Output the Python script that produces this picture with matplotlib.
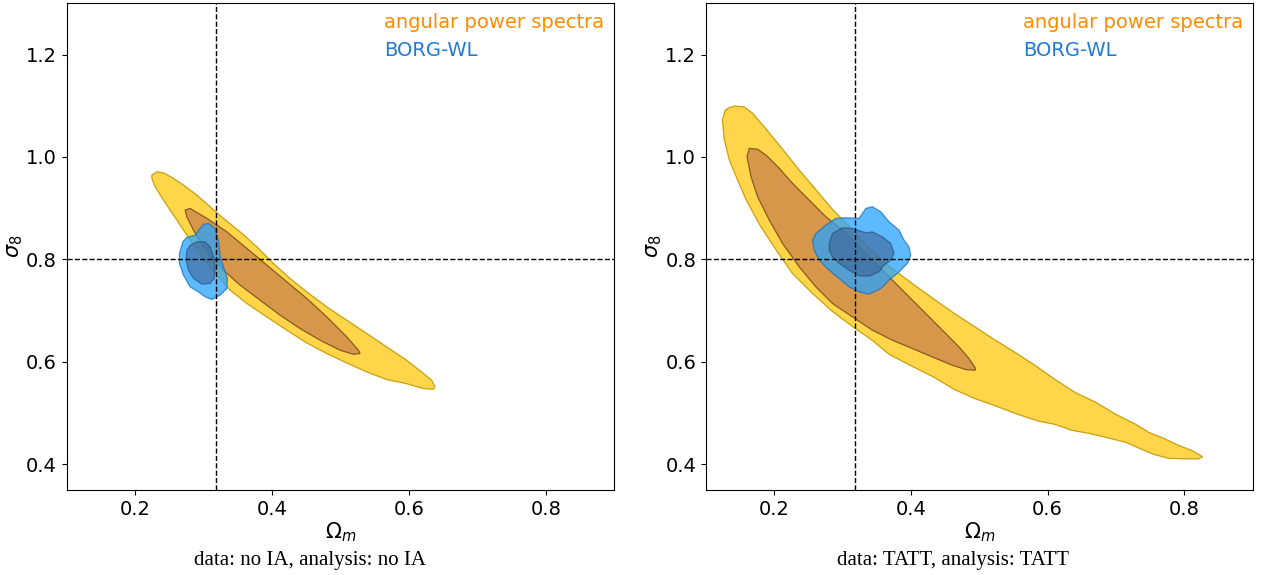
import numpy as np
import matplotlib
matplotlib.use("Agg")
import matplotlib.pyplot as plt
from matplotlib.patches import Polygon
from matplotlib.lines import Line2D

# fiducial values
om_fid = 0.3175
s8_fid = 0.8

# --- left panel: data no IA, analysis no IA (contour outlines, Omega_m / sigma_8)
cl_outer_om = [0.2244, 0.2317, 0.2413, 0.2559, 0.2705, 0.2901, 0.3095, 0.3289, 0.3533, 0.3777,
               0.4019, 0.4263, 0.4507, 0.4799, 0.5091, 0.5383, 0.5674, 0.5966, 0.6209, 0.6331,
               0.6380, 0.6355, 0.6209, 0.5966, 0.5674, 0.5383, 0.5091, 0.4799, 0.4507, 0.4215,
               0.3923, 0.3631, 0.3387, 0.3193, 0.2997, 0.2803, 0.2609, 0.2413, 0.2292, 0.2244]
cl_outer_s8 = [0.9646, 0.9711, 0.9691, 0.9582, 0.9451, 0.9256, 0.9027, 0.8801, 0.8539, 0.8246,
               0.7922, 0.7629, 0.7367, 0.7074, 0.6814, 0.6555, 0.6293, 0.6033, 0.5777, 0.5643,
               0.5512, 0.5467, 0.5479, 0.5576, 0.5656, 0.5805, 0.5980, 0.6164, 0.6371, 0.6619,
               0.6879, 0.7141, 0.7400, 0.7693, 0.8020, 0.8377, 0.8768, 0.9158, 0.9418, 0.9582]
cl_inner_om = [0.2730, 0.2803, 0.3047, 0.3339, 0.3631, 0.3923, 0.4215, 0.4507, 0.4799, 0.5091,
               0.5260, 0.5285, 0.5187, 0.4993, 0.4701, 0.4409, 0.4117, 0.3825, 0.3533, 0.3289,
               0.3047, 0.2851, 0.2755]
cl_inner_s8 = [0.8963, 0.8996, 0.8801, 0.8539, 0.8215, 0.7889, 0.7563, 0.7238, 0.6879, 0.6488,
               0.6229, 0.6164, 0.6150, 0.6229, 0.6424, 0.6652, 0.6912, 0.7205, 0.7498, 0.7791,
               0.8148, 0.8572, 0.8832]
borg_outer_om = [0.3070, 0.3168, 0.3216, 0.3241, 0.3289, 0.3347, 0.3339, 0.3241, 0.3120, 0.3022,
                 0.2924, 0.2803, 0.2705, 0.2647, 0.2647, 0.2696, 0.2755, 0.2876, 0.2949, 0.2997]
borg_outer_s8 = [0.8703, 0.8605, 0.8377, 0.8051, 0.7855, 0.7629, 0.7434, 0.7303, 0.7219, 0.7270,
                 0.7367, 0.7465, 0.7693, 0.7922, 0.8117, 0.8344, 0.8430, 0.8475, 0.8605, 0.8684]
borg_inner_om = [0.2755, 0.2803, 0.2901, 0.3022, 0.3095, 0.3143, 0.3168, 0.3153, 0.3095, 0.2974,
                 0.2851, 0.2778, 0.2745]
borg_inner_s8 = [0.8182, 0.8279, 0.8344, 0.8344, 0.8246, 0.8051, 0.7855, 0.7629, 0.7531, 0.7518,
                 0.7629, 0.7791, 0.7986]

# --- right panel: data TATT, analysis TATT
cr_outer_om = [0.1430, 0.1560, 0.1680, 0.1880, 0.2120, 0.2365, 0.2614, 0.2847, 0.3052, 0.3388,
               0.3680, 0.4031, 0.4338, 0.4630, 0.4922, 0.5214, 0.5521, 0.5813, 0.6105, 0.6397,
               0.6704, 0.6996, 0.7289, 0.7479, 0.7698, 0.7917, 0.8136, 0.8268,
               0.8209, 0.7990, 0.7771, 0.7552, 0.7376, 0.7143, 0.6851, 0.6602, 0.6354, 0.6105,
               0.5872, 0.5521, 0.5214, 0.4922, 0.4630, 0.4338, 0.4016, 0.3680, 0.3432, 0.3140,
               0.2847, 0.2555, 0.2263, 0.2029, 0.1781, 0.1591, 0.1445, 0.1343, 0.1270, 0.1240,
               0.1284, 0.1343]
cr_outer_s8 = [1.0994, 1.0975, 1.0857, 1.0545, 1.0154, 0.9744, 0.9354, 0.8982, 0.8709, 0.8221,
               0.7869, 0.7518, 0.7225, 0.6951, 0.6697, 0.6443, 0.6189, 0.5936, 0.5662, 0.5408,
               0.5213, 0.4979, 0.4783, 0.4627, 0.4510, 0.4373, 0.4256, 0.4148,
               0.4109, 0.4109, 0.4119, 0.4197, 0.4295, 0.4432, 0.4529, 0.4607, 0.4666, 0.4783,
               0.4842, 0.4998, 0.5154, 0.5291, 0.5467, 0.5701, 0.5916, 0.6150, 0.6424, 0.6697,
               0.6990, 0.7342, 0.7732, 0.8182, 0.8689, 0.9158, 0.9607, 0.9939, 1.0330, 1.0721,
               1.0916, 1.0965]
cr_inner_om = [0.1635, 0.1756, 0.1879, 0.2073, 0.2267, 0.2511, 0.2755, 0.2998, 0.3242, 0.3486,
               0.3729, 0.3973, 0.4216, 0.4459, 0.4703, 0.4849, 0.4947, 0.4937, 0.4801, 0.4605,
               0.4313, 0.4021, 0.3729, 0.3436, 0.3144, 0.2852, 0.2609, 0.2365, 0.2121, 0.1927,
               0.1756, 0.1660, 0.1601]
cr_inner_s8 = [1.0168, 1.0149, 1.0037, 0.9778, 0.9485, 0.9158, 0.8832, 0.8572, 0.8246, 0.7922,
               0.7596, 0.7270, 0.6946, 0.6620, 0.6293, 0.6067, 0.5871, 0.5838, 0.5852, 0.5936,
               0.6098, 0.6262, 0.6424, 0.6620, 0.6879, 0.7141, 0.7465, 0.7856, 0.8313, 0.8768,
               0.9223, 0.9613, 1.0004]
br_outer_om = [0.2560, 0.2609, 0.2755, 0.2901, 0.3048, 0.3242, 0.3290, 0.3340, 0.3436, 0.3559,
               0.3680, 0.3826, 0.3899, 0.3972, 0.3997, 0.3948, 0.3826, 0.3680, 0.3559, 0.3388,
               0.3242, 0.3096, 0.2950, 0.2803, 0.2657, 0.2584]
br_outer_s8 = [0.8377, 0.8508, 0.8670, 0.8801, 0.8813, 0.8801, 0.8899, 0.8996, 0.9028, 0.8930,
               0.8735, 0.8572, 0.8377, 0.8246, 0.8084, 0.7922, 0.7758, 0.7596, 0.7434, 0.7323,
               0.7367, 0.7465, 0.7629, 0.7791, 0.7986, 0.8182]
br_inner_om = [0.2804, 0.2852, 0.2998, 0.3144, 0.3340, 0.3436, 0.3582, 0.3705, 0.3753, 0.3705,
               0.3607, 0.3534, 0.3388, 0.3242, 0.3096, 0.2950, 0.2852, 0.2804]
br_inner_s8 = [0.8313, 0.8508, 0.8618, 0.8606, 0.8520, 0.8539, 0.8442, 0.8313, 0.8117, 0.7987,
               0.7889, 0.7758, 0.7674, 0.7680, 0.7791, 0.7922, 0.8051, 0.8182]

captions = ["data: no IA, analysis: no IA", "data: TATT, analysis: TATT"]
labels = ["angular power spectra", "BORG-WL"]
label_colors = ["#ff8c00", "#1f7ad6"]


def add_region(ax, om, s8, face, edge, alpha=1.0):
    pts = np.column_stack([om, s8])
    ax.add_patch(Polygon(pts, closed=True, facecolor=face, edgecolor=edge,
                         lw=0.9, alpha=alpha))


fig = plt.figure(figsize=(12.62, 5.75), dpi=100)
ax1 = fig.add_axes([0.0529, 0.1478, 0.4339, 0.8465])
ax2 = fig.add_axes([0.5594, 0.1478, 0.4331, 0.8465])

panels = [
    (ax1, (cl_outer_om, cl_outer_s8), (cl_inner_om, cl_inner_s8),
     (borg_outer_om, borg_outer_s8), (borg_inner_om, borg_inner_s8)),
    (ax2, (cr_outer_om, cr_outer_s8), (cr_inner_om, cr_inner_s8),
     (br_outer_om, br_outer_s8), (br_inner_om, br_inner_s8)),
]

for i, (ax, c_out, c_in, b_out, b_in) in enumerate(panels):
    add_region(ax, *c_out, "#ffd54a", "#c9a010")
    add_region(ax, *c_in, "#d6974b", "#8a5a1e")
    add_region(ax, *b_out, "#27a3ff", "#1a6fb8", alpha=0.75)
    add_region(ax, *b_in, "#3d5a8c", "#1b3f6b", alpha=0.55)

    ax.axvline(om_fid, color="k", ls="--", lw=1)
    ax.axhline(s8_fid, color="k", ls="--", lw=1)

    ax.set_xlim(0.1, 0.9)
    ax.set_ylim(0.35, 1.3)
    ax.set_xticks([0.2, 0.4, 0.6, 0.8])
    ax.set_yticks([0.4, 0.6, 0.8, 1.0, 1.2])
    ax.tick_params(labelsize=14)
    ax.set_xlabel(r"$\Omega_m$", fontsize=15, labelpad=1)
    ax.set_ylabel(r"$\sigma_8$", fontsize=15, labelpad=1)

    handles = [Line2D([], [], lw=0) for _ in labels]
    ax.legend(handles, labels, loc="upper right", frameon=False, fontsize=14,
              handlelength=0, handletextpad=0, labelspacing=0.45,
              borderaxespad=0.15, borderpad=0.35, labelcolor=label_colors)

fig.text(0.246, 0.026, captions[0], ha="center", va="center",
         family="Liberation Serif", fontsize=15)
fig.text(0.755, 0.026, captions[1], ha="center", va="center",
         family="Liberation Serif", fontsize=15)

fig.savefig("out.png", dpi=100)
